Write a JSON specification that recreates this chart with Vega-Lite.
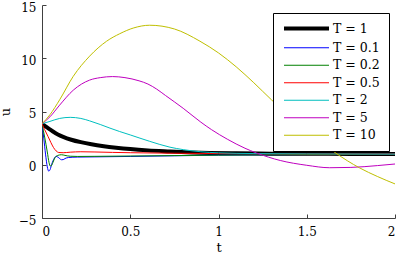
{
  "$schema": "https://vega.github.io/schema/vega-lite/v6.json",
  "width": 353,
  "height": 213,
  "autosize": {"type": "none"},
  "padding": {"left": 42, "top": 5, "right": 4, "bottom": 39},
  "background": "white",
  "config": {
    "view": {"stroke": null},
    "axis": {
      "labelFont": "DejaVu Serif",
      "titleFont": "DejaVu Serif",
      "labelFontSize": 12,
      "titleFontSize": 13,
      "titleFontWeight": "normal",
      "labelColor": "black",
      "titleColor": "black",
      "domainColor": "#404040",
      "tickColor": "#404040",
      "grid": false,
      "tickSize": -4,
      "format": "~g"
    }
  },
  "data": {
    "values": [
      {"s": "T = 1", "t": 0, "u": 3.85},
      {"s": "T = 1", "t": 0.02, "u": 3.6},
      {"s": "T = 1", "t": 0.04, "u": 3.37},
      {"s": "T = 1", "t": 0.06, "u": 3.15},
      {"s": "T = 1", "t": 0.09, "u": 2.85},
      {"s": "T = 1", "t": 0.12, "u": 2.62},
      {"s": "T = 1", "t": 0.166, "u": 2.35},
      {"s": "T = 1", "t": 0.22, "u": 2.12},
      {"s": "T = 1", "t": 0.28, "u": 1.92},
      {"s": "T = 1", "t": 0.35, "u": 1.74},
      {"s": "T = 1", "t": 0.42, "u": 1.6},
      {"s": "T = 1", "t": 0.5, "u": 1.47},
      {"s": "T = 1", "t": 0.6, "u": 1.35},
      {"s": "T = 1", "t": 0.725, "u": 1.25},
      {"s": "T = 1", "t": 0.85, "u": 1.16},
      {"s": "T = 1", "t": 0.95, "u": 1.11},
      {"s": "T = 1", "t": 1.1, "u": 1.07},
      {"s": "T = 1", "t": 1.3, "u": 1.04},
      {"s": "T = 1", "t": 1.5, "u": 1.03},
      {"s": "T = 1", "t": 1.75, "u": 1.02},
      {"s": "T = 1", "t": 2.0, "u": 1.01},

      {"s": "T = 0.1", "t": 0, "u": 3.85},
      {"s": "T = 0.1", "t": 0.01, "u": 2.5},
      {"s": "T = 0.1", "t": 0.02, "u": 1.0},
      {"s": "T = 0.1", "t": 0.03, "u": -0.2},
      {"s": "T = 0.1", "t": 0.038, "u": -0.6},
      {"s": "T = 0.1", "t": 0.046, "u": -0.45},
      {"s": "T = 0.1", "t": 0.055, "u": 0.05},
      {"s": "T = 0.1", "t": 0.062, "u": 0.35},
      {"s": "T = 0.1", "t": 0.07, "u": 0.62},
      {"s": "T = 0.1", "t": 0.08, "u": 0.78},
      {"s": "T = 0.1", "t": 0.09, "u": 0.72},
      {"s": "T = 0.1", "t": 0.1, "u": 0.58},
      {"s": "T = 0.1", "t": 0.11, "u": 0.47},
      {"s": "T = 0.1", "t": 0.12, "u": 0.48},
      {"s": "T = 0.1", "t": 0.13, "u": 0.58},
      {"s": "T = 0.1", "t": 0.15, "u": 0.68},
      {"s": "T = 0.1", "t": 0.2, "u": 0.72},
      {"s": "T = 0.1", "t": 0.3, "u": 0.74},
      {"s": "T = 0.1", "t": 0.5, "u": 0.78},
      {"s": "T = 0.1", "t": 0.75, "u": 0.84},
      {"s": "T = 0.1", "t": 1.0, "u": 0.9},
      {"s": "T = 0.1", "t": 1.5, "u": 0.96},
      {"s": "T = 0.1", "t": 2.0, "u": 0.99},

      {"s": "T = 0.2", "t": 0, "u": 3.85},
      {"s": "T = 0.2", "t": 0.015, "u": 2.6},
      {"s": "T = 0.2", "t": 0.03, "u": 1.2},
      {"s": "T = 0.2", "t": 0.04, "u": 0.2},
      {"s": "T = 0.2", "t": 0.047, "u": -0.12},
      {"s": "T = 0.2", "t": 0.055, "u": -0.05},
      {"s": "T = 0.2", "t": 0.065, "u": 0.35},
      {"s": "T = 0.2", "t": 0.075, "u": 0.7},
      {"s": "T = 0.2", "t": 0.09, "u": 0.88},
      {"s": "T = 0.2", "t": 0.11, "u": 0.94},
      {"s": "T = 0.2", "t": 0.13, "u": 0.88},
      {"s": "T = 0.2", "t": 0.16, "u": 0.8},
      {"s": "T = 0.2", "t": 0.2, "u": 0.78},
      {"s": "T = 0.2", "t": 0.3, "u": 0.79},
      {"s": "T = 0.2", "t": 0.5, "u": 0.82},
      {"s": "T = 0.2", "t": 1.0, "u": 0.9},
      {"s": "T = 0.2", "t": 1.5, "u": 0.96},
      {"s": "T = 0.2", "t": 2.0, "u": 0.99},

      {"s": "T = 0.5", "t": 0, "u": 3.85},
      {"s": "T = 0.5", "t": 0.015, "u": 3.3},
      {"s": "T = 0.5", "t": 0.034, "u": 2.66},
      {"s": "T = 0.5", "t": 0.05, "u": 2.1},
      {"s": "T = 0.5", "t": 0.065, "u": 1.62},
      {"s": "T = 0.5", "t": 0.08, "u": 1.3},
      {"s": "T = 0.5", "t": 0.095, "u": 1.15},
      {"s": "T = 0.5", "t": 0.12, "u": 1.13},
      {"s": "T = 0.5", "t": 0.16, "u": 1.18},
      {"s": "T = 0.5", "t": 0.22, "u": 1.22},
      {"s": "T = 0.5", "t": 0.3, "u": 1.2},
      {"s": "T = 0.5", "t": 0.4, "u": 1.16},
      {"s": "T = 0.5", "t": 0.5, "u": 1.13},
      {"s": "T = 0.5", "t": 0.75, "u": 1.08},
      {"s": "T = 0.5", "t": 1.0, "u": 1.05},
      {"s": "T = 0.5", "t": 1.5, "u": 1.02},
      {"s": "T = 0.5", "t": 2.0, "u": 1.01},

      {"s": "T = 2", "t": 0, "u": 3.85},
      {"s": "T = 2", "t": 0.045, "u": 4.07},
      {"s": "T = 2", "t": 0.1, "u": 4.35},
      {"s": "T = 2", "t": 0.16, "u": 4.45},
      {"s": "T = 2", "t": 0.22, "u": 4.35},
      {"s": "T = 2", "t": 0.27, "u": 4.12},
      {"s": "T = 2", "t": 0.33, "u": 3.78},
      {"s": "T = 2", "t": 0.385, "u": 3.44},
      {"s": "T = 2", "t": 0.44, "u": 3.12},
      {"s": "T = 2", "t": 0.5, "u": 2.8},
      {"s": "T = 2", "t": 0.61, "u": 2.2},
      {"s": "T = 2", "t": 0.725, "u": 1.65},
      {"s": "T = 2", "t": 0.8, "u": 1.42},
      {"s": "T = 2", "t": 0.9, "u": 1.22},
      {"s": "T = 2", "t": 1.0, "u": 1.12},
      {"s": "T = 2", "t": 1.2, "u": 1.05},
      {"s": "T = 2", "t": 1.5, "u": 1.02},
      {"s": "T = 2", "t": 2.0, "u": 1.0},

      {"s": "T = 5", "t": 0, "u": 3.85},
      {"s": "T = 5", "t": 0.045, "u": 4.5},
      {"s": "T = 5", "t": 0.1, "u": 5.6},
      {"s": "T = 5", "t": 0.177, "u": 7.0},
      {"s": "T = 5", "t": 0.27, "u": 7.95},
      {"s": "T = 5", "t": 0.33, "u": 8.18},
      {"s": "T = 5", "t": 0.4, "u": 8.28},
      {"s": "T = 5", "t": 0.47, "u": 8.18},
      {"s": "T = 5", "t": 0.55, "u": 7.88},
      {"s": "T = 5", "t": 0.6, "u": 7.58},
      {"s": "T = 5", "t": 0.65, "u": 7.1},
      {"s": "T = 5", "t": 0.7, "u": 6.5},
      {"s": "T = 5", "t": 0.8, "u": 5.3},
      {"s": "T = 5", "t": 0.9, "u": 4.0},
      {"s": "T = 5", "t": 0.96, "u": 3.3},
      {"s": "T = 5", "t": 1.05, "u": 2.4},
      {"s": "T = 5", "t": 1.15, "u": 1.55},
      {"s": "T = 5", "t": 1.216, "u": 1.1},
      {"s": "T = 5", "t": 1.35, "u": 0.4},
      {"s": "T = 5", "t": 1.5, "u": -0.05},
      {"s": "T = 5", "t": 1.63, "u": -0.28},
      {"s": "T = 5", "t": 1.75, "u": -0.25},
      {"s": "T = 5", "t": 1.9, "u": -0.08},
      {"s": "T = 5", "t": 2.0, "u": 0.07},

      {"s": "T = 10", "t": 0, "u": 3.85},
      {"s": "T = 10", "t": 0.045, "u": 4.7},
      {"s": "T = 10", "t": 0.1, "u": 6.1},
      {"s": "T = 10", "t": 0.177, "u": 8.3},
      {"s": "T = 10", "t": 0.27, "u": 10.2},
      {"s": "T = 10", "t": 0.366, "u": 11.6},
      {"s": "T = 10", "t": 0.44, "u": 12.3},
      {"s": "T = 10", "t": 0.52, "u": 12.85},
      {"s": "T = 10", "t": 0.61, "u": 13.1},
      {"s": "T = 10", "t": 0.75, "u": 12.75},
      {"s": "T = 10", "t": 0.895, "u": 11.6},
      {"s": "T = 10", "t": 1.0, "u": 10.5},
      {"s": "T = 10", "t": 1.1, "u": 9.2},
      {"s": "T = 10", "t": 1.2, "u": 7.7},
      {"s": "T = 10", "t": 1.3, "u": 6.1},
      {"s": "T = 10", "t": 1.4, "u": 4.6},
      {"s": "T = 10", "t": 1.5, "u": 3.3},
      {"s": "T = 10", "t": 1.66, "u": 1.15},
      {"s": "T = 10", "t": 1.8, "u": -0.3},
      {"s": "T = 10", "t": 1.9, "u": -1.1},
      {"s": "T = 10", "t": 2.0, "u": -1.8}
    ]
  },
  "mark": {"type": "line", "interpolate": "monotone", "clip": true},
  "encoding": {
    "x": {
      "field": "t", "type": "quantitative",
      "scale": {"domain": [0, 2], "nice": false},
      "axis": {"values": [0, 0.5, 1, 1.5, 2], "title": "t", "labelPadding": 12, "titlePadding": 4}
    },
    "y": {
      "field": "u", "type": "quantitative",
      "scale": {"domain": [-5, 15], "nice": false},
      "axis": {"values": [-5, 0, 5, 10, 15], "title": "u", "labelPadding": 10, "labelOffset": 2, "titlePadding": 6}
    },
    "color": {
      "field": "s", "type": "nominal",
      "scale": {
        "domain": ["T = 1", "T = 0.1", "T = 0.2", "T = 0.5", "T = 2", "T = 5", "T = 10"],
        "range": ["#000000", "#0000ff", "#008000", "#ff0000", "#00bfbf", "#bf00bf", "#bfbf00"]
      },
      "legend": {
        "title": null,
        "orient": "none",
        "legendX": 231,
        "legendY": 8,
        "fillColor": "white",
        "strokeColor": "black",
        "padding": 9,
        "symbolType": "M-5,0H5",
        "symbolSize": 81,
        "symbolOffset": 18,
        "rowPadding": 4.5,
        "labelFont": "DejaVu Serif",
        "labelFontSize": 12.5,
        "labelColor": "black",
        "labelOffset": 20
      }
    },
    "strokeWidth": {
      "field": "s", "type": "nominal",
      "scale": {
        "type": "ordinal",
        "domain": ["T = 1", "T = 0.1", "T = 0.2", "T = 0.5", "T = 2", "T = 5", "T = 10"],
        "range": [4, 1, 1, 1, 1, 1, 1]
      },
      "legend": {
        "title": null,
        "orient": "none",
        "legendX": 231,
        "legendY": 8,
        "fillColor": "white",
        "strokeColor": "black",
        "padding": 9,
        "symbolType": "M-5,0H5",
        "symbolSize": 81,
        "symbolOffset": 18,
        "rowPadding": 4.5,
        "labelFont": "DejaVu Serif",
        "labelFontSize": 12.5,
        "labelColor": "black",
        "labelOffset": 20
      }
    }
  }
}
